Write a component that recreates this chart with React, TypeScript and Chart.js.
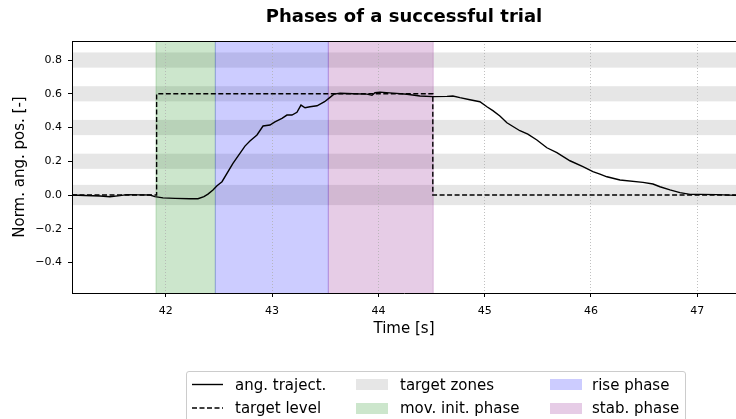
import { useEffect, useRef } from 'react';
import { Chart, registerables } from 'chart.js';

Chart.register(...registerables);

const FONT = '"DejaVu Sans", sans-serif';

// Measured trajectory (time in s, normalized angular position)
const timeS = [
  41.118, 41.24, 41.381, 41.475, 41.569, 41.635, 41.757, 41.851, 41.898, 41.974,
  42.087, 42.228, 42.303, 42.359, 42.397, 42.444, 42.482, 42.529, 42.632, 42.745,
  42.792, 42.858, 42.915, 42.98, 43.027, 43.093, 43.14, 43.187, 43.234, 43.272,
  43.31, 43.357, 43.423, 43.494, 43.545, 43.582, 43.639, 43.761, 43.893, 43.94,
  43.968, 44.015, 44.137, 44.269, 44.391, 44.513, 44.645, 44.701, 44.767, 44.861,
  44.955, 45.021, 45.077, 45.143, 45.209, 45.331, 45.406, 45.491, 45.585, 45.679,
  45.802, 45.924, 46.018, 46.084, 46.15, 46.273, 46.489, 46.583, 46.649, 46.743,
  46.837, 46.932, 47.026, 47.186, 47.364,
];
const angTraject = [
  0.0, -0.003, -0.006, -0.01, -0.004, 0.002, 0.001, 0.0, -0.01, -0.017,
  -0.02, -0.022, -0.022, -0.01, 0.005, 0.03, 0.055, 0.079, 0.188, 0.29,
  0.32, 0.356, 0.409, 0.415, 0.434, 0.454, 0.474, 0.474, 0.49, 0.533,
  0.517, 0.523, 0.529, 0.553, 0.579, 0.598, 0.603, 0.6, 0.598, 0.591,
  0.606, 0.61, 0.604, 0.597, 0.587, 0.583, 0.585, 0.587, 0.577, 0.565,
  0.553, 0.523, 0.5, 0.468, 0.428, 0.381, 0.361, 0.326, 0.28, 0.251,
  0.203, 0.168, 0.138, 0.124, 0.108, 0.089, 0.075, 0.065, 0.049, 0.03,
  0.014, 0.004, 0.004, 0.002, -0.002,
];

// Target level (step)
const targetTimes = [41.118, 41.914, 41.914, 44.512, 44.512, 47.364];
const targetLevel = [0, 0, 0.6, 0.6, 0, 0];

// Target zones
const zoneCenters = [0, 0.2, 0.4, 0.6, 0.8];
const zoneHalfWidths = [0.06, 0.045, 0.045, 0.045, 0.045];

// Phases
const phaseLabels = ['mov. init. phase', 'rise phase', 'stab. phase'];
const phaseStarts = [41.908, 42.466, 43.529];
const phaseEnds = [42.466, 43.529, 44.516];
const phaseColors = ['rgba(0,128,0,0.2)', 'rgba(0,0,255,0.2)', 'rgba(128,0,128,0.2)'];
const zoneColor = 'rgba(128,128,128,0.2)';

// Axes
const xTicks = [42, 43, 44, 45, 46, 47];
const yTicks = [-0.4, -0.2, 0, 0.2, 0.4, 0.6, 0.8];
const xRange = [41.118, 47.364];
const yRange = [-0.581, 0.913];

const bgPlugin = {
  id: 'bgSpans',
  beforeDraw(chart: any) {
    const { ctx, chartArea: a, scales } = chart;
    const x = scales.x;
    const y = scales.y;
    ctx.save();
    ctx.beginPath();
    ctx.rect(a.left, a.top, a.right - a.left, a.bottom - a.top);
    ctx.clip();
    ctx.fillStyle = zoneColor;
    zoneCenters.forEach((c, i) => {
      const y1 = y.getPixelForValue(c + zoneHalfWidths[i]);
      const y2 = y.getPixelForValue(c - zoneHalfWidths[i]);
      ctx.fillRect(a.left, y1, a.right - a.left, y2 - y1);
    });
    phaseStarts.forEach((s, i) => {
      const x1 = x.getPixelForValue(s);
      const x2 = x.getPixelForValue(phaseEnds[i]);
      ctx.fillStyle = phaseColors[i];
      ctx.fillRect(x1, a.top, x2 - x1, a.bottom - a.top);
      ctx.strokeStyle = phaseColors[i];
      ctx.lineWidth = 1;
      ctx.beginPath();
      ctx.moveTo(x1, a.top);
      ctx.lineTo(x1, a.bottom);
      ctx.moveTo(x2, a.top);
      ctx.lineTo(x2, a.bottom);
      ctx.stroke();
    });
    ctx.restore();
  },
  afterDraw(chart: any) {
    const { ctx, chartArea: a } = chart;
    ctx.save();
    ctx.strokeStyle = '#000';
    ctx.lineWidth = 1;
    ctx.beginPath();
    ctx.moveTo(a.left, a.top + 0.5);
    ctx.lineTo(a.right, a.top + 0.5);
    ctx.stroke();
    ctx.restore();
  },
};

const legendRows = [384.5, 408];
const legendHandleX = [192, 356, 549.5];
const legendTextX = [235, 400, 592];

function Legend() {
  const textStyle = (col: number, row: number): any => ({
    position: 'absolute',
    left: legendTextX[col],
    top: legendRows[row] - 9,
    height: 18,
    lineHeight: '18px',
    fontFamily: FONT,
    fontSize: 15,
    color: '#000',
    whiteSpace: 'nowrap',
  });
  const patch = (col: number, row: number, color: string) => (
    <div
      style={{
        position: 'absolute',
        left: legendHandleX[col],
        top: legendRows[row] - 5.5,
        width: 32,
        height: 11,
        background: color,
      }}
    />
  );
  return (
    <>
      <div
        style={{
          position: 'absolute',
          left: 186,
          top: 371,
          width: 500,
          height: 54,
          border: '1px solid #cccccc',
          borderRadius: 3,
          background: 'rgba(255,255,255,0.8)',
          boxSizing: 'border-box',
        }}
      />
      <svg style={{ position: 'absolute', left: 0, top: 0 }} width={736} height={419}>
        <line x1={legendHandleX[0]} x2={legendHandleX[0] + 31} y1={legendRows[0]} y2={legendRows[0]} stroke="#000" strokeWidth={1.4} />
        <line x1={legendHandleX[0]} x2={legendHandleX[0] + 31} y1={legendRows[1]} y2={legendRows[1]} stroke="#000" strokeWidth={1.4} strokeDasharray="5 2.5" />
      </svg>
      <div style={textStyle(0, 0)}>ang. traject.</div>
      <div style={textStyle(0, 1)}>target level</div>
      {patch(1, 0, zoneColor)}
      <div style={textStyle(1, 0)}>target zones</div>
      {patch(1, 1, phaseColors[0])}
      <div style={textStyle(1, 1)}>{phaseLabels[0]}</div>
      {patch(2, 0, phaseColors[1])}
      <div style={textStyle(2, 0)}>{phaseLabels[1]}</div>
      {patch(2, 1, phaseColors[2])}
      <div style={textStyle(2, 1)}>{phaseLabels[2]}</div>
    </>
  );
}

export default function App() {
  const ref = useRef<HTMLCanvasElement>(null);

  useEffect(() => {
    const canvas = ref.current;
    if (!canvas) return;
    const fmt = (v: number) => (v < 0 ? '\u2212' : '') + Math.abs(v).toFixed(1);
    const chart = new Chart(canvas, {
      type: 'line',
      data: {
        datasets: [
          {
            label: 'ang. traject.',
            data: timeS.map((t, i) => ({ x: t, y: angTraject[i] })),
            borderColor: '#000',
            borderWidth: 1.4,
            pointRadius: 0,
            tension: 0,
            fill: false,
          },
          {
            label: 'target level',
            data: targetTimes.map((t, i) => ({ x: t, y: targetLevel[i] })),
            borderColor: '#000',
            borderWidth: 1.4,
            borderDash: [5, 2.5],
            pointRadius: 0,
            tension: 0,
            fill: false,
          },
        ],
      },
      options: {
        animation: false,
        responsive: false,
        devicePixelRatio: 1,
        events: [],
        layout: { padding: { left: 0, right: 0, top: 0, bottom: 81 } },
        plugins: {
          legend: { display: false },
          tooltip: { enabled: false },
          title: {
            display: true,
            text: 'Phases of a successful trial',
            fullSize: false,
            color: '#000',
            font: { family: FONT, size: 18, weight: 'bold' },
            padding: { top: 7, bottom: 12.4 },
          },
        },
        scales: {
          x: {
            type: 'linear',
            min: xRange[0],
            max: xRange[1],
            afterBuildTicks: (s: any) => {
              s.ticks = xTicks.map((v) => ({ value: v }));
            },
            afterFit: (s: any) => {
              s.height = 45;
            },
            ticks: {
              color: '#000',
              font: { family: FONT, size: 11 },
              padding: 8,
              maxRotation: 0,
              autoSkip: false,
              callback: (v: any) => String(v),
            },
            grid: {
              color: '#b0b0b0',
              lineWidth: 0.8,
              drawTicks: true,
              tickLength: 4,
              tickColor: '#000',
              tickWidth: 1,
            },
            border: { display: true, color: '#000', width: 1, dash: [1, 2] },
            title: {
              display: true,
              text: 'Time [s]',
              color: '#000',
              font: { family: FONT, size: 15 },
              padding: { top: 0, bottom: 0 },
            },
          },
          y: {
            type: 'linear',
            min: yRange[0],
            max: yRange[1],
            afterBuildTicks: (s: any) => {
              s.ticks = yTicks.map((v) => ({ value: v }));
            },
            afterFit: (s: any) => {
              s.width = 72;
            },
            ticks: {
              color: '#000',
              font: { family: FONT, size: 11 },
              padding: 6,
              autoSkip: false,
              callback: (v: any) => fmt(Number(v)),
            },
            grid: {
              drawOnChartArea: false,
              drawTicks: true,
              tickLength: 4,
              tickColor: '#000',
              tickWidth: 1,
            },
            border: { display: true, color: '#000', width: 1 },
            title: {
              display: true,
              text: 'Norm. ang. pos. [-]',
              color: '#000',
              font: { family: FONT, size: 15 },
              padding: { top: 10.7, bottom: 0 },
            },
          },
        },
      },
      plugins: [bgPlugin],
    } as any);
    return () => chart.destroy();
  }, []);

  return (
    <div
      style={{
        position: 'fixed',
        left: 0,
        top: 0,
        width: 736,
        height: 419,
        overflow: 'hidden',
        background: '#fff',
      }}
    >
      <canvas ref={ref} width={736} height={419} style={{ position: 'absolute', left: 0, top: 0, width: 736, height: 419 }} />
      <Legend />
    </div>
  );
}
